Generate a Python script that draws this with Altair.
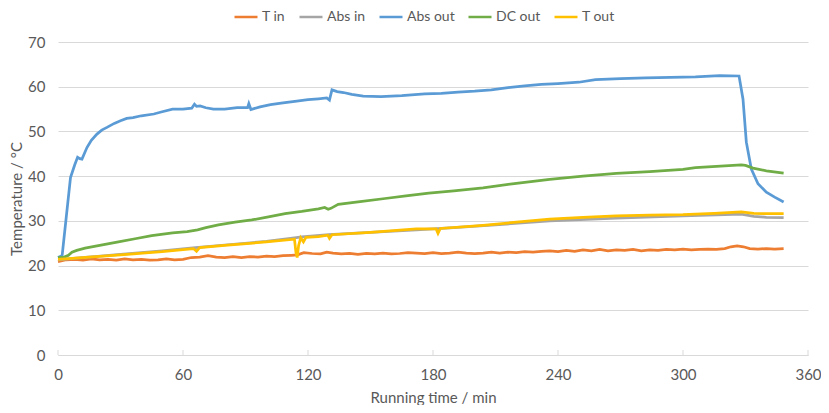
import altair as alt
import pandas as pd

series_names = ["T in", "Abs in", "Abs out", "DC out", "T out"]
series_colors = ["#ED7D31", "#A5A5A5", "#5B9BD5", "#70AD47", "#FFC000"]
x_ticks = [0, 60, 120, 180, 240, 300, 360]
y_ticks = [0, 10, 20, 30, 40, 50, 60, 70]

t_tin = [0, 4, 8, 12, 16, 20, 24, 28, 32, 36, 40, 44, 48, 52, 56, 60, 64, 68, 72, 76,
         80, 84, 88, 92, 96, 100, 104, 108, 112, 115, 118, 122, 126, 129, 132, 136, 140,
         144, 148, 152, 156, 160, 164, 168, 172, 176, 180, 184, 188, 192, 196, 200, 204,
         208, 212, 216, 220, 224, 228, 232, 236, 240, 244, 248, 252, 256, 260, 264, 268,
         272, 276, 280, 284, 288, 292, 296, 300, 304, 308, 312, 316, 320, 323, 326, 329,
         332, 336, 340, 344, 348.3]
v_tin = [20.9, 21.3, 21.4, 21.2, 21.5, 21.3, 21.4, 21.2, 21.5, 21.3, 21.4, 21.2, 21.3, 21.5,
         21.3, 21.4, 21.8, 21.9, 22.2, 21.9, 21.8, 22.0, 21.8, 22.0, 21.9, 22.1, 22.0, 22.2,
         22.3, 22.4, 22.9, 22.7, 22.6, 23.0, 22.8, 22.6, 22.7, 22.5, 22.7, 22.6, 22.8, 22.6,
         22.7, 22.9, 22.8, 22.7, 22.9, 22.7, 22.8, 23.0, 22.8, 22.7, 22.8, 23.0, 22.8, 23.0,
         22.9, 23.1, 23.0, 23.2, 23.3, 23.1, 23.4, 23.2, 23.5, 23.3, 23.6, 23.3, 23.5, 23.4,
         23.6, 23.3, 23.5, 23.4, 23.6, 23.5, 23.7, 23.5, 23.6, 23.7, 23.6, 23.8, 24.2, 24.4,
         24.2, 23.8, 23.7, 23.8, 23.7, 23.8]

t_absin = [0, 10, 30, 50, 66, 80, 100, 113.5, 117, 130, 150, 172, 190, 210, 236, 268, 300,
           320, 328, 334, 340, 348.3]
v_absin = [21.3, 21.7, 22.5, 23.3, 24.0, 24.6, 25.4, 26.2, 26.4, 26.9, 27.4, 28.0, 28.5, 29.1,
           30.0, 30.6, 31.1, 31.4, 31.5, 31.0, 30.8, 30.7]

t_absout = [0, 1, 2, 4, 6, 8, 9.4, 10.5, 11.5, 13.9, 16, 18.7, 21, 23.5, 27, 30, 33, 36, 40,
            46, 50, 55, 60, 64.2, 65.5, 66.5, 68.2, 71, 74.6, 80, 86, 91, 91.6, 92.6, 97, 102,
            108, 114.6, 120, 125, 129, 130.3, 131.5, 134, 137, 141, 146.5, 155, 165, 176, 184,
            192, 200, 208, 216, 224, 232, 240, 250, 258, 270, 282, 294, 306, 317.6, 326.9,
            328.8, 330.4, 332.8, 336, 340, 344, 348.3]
v_absout = [21.8, 22.0, 22.3, 31.0, 39.7, 42.5, 44.2, 43.9, 43.8, 46.4, 48.0, 49.4, 50.3, 50.9,
            51.8, 52.4, 52.9, 53.1, 53.5, 53.9, 54.4, 55.0, 55.0, 55.2, 56.1, 55.6, 55.7, 55.3,
            55.0, 55.0, 55.3, 55.3, 56.2, 54.9, 55.5, 56.0, 56.4, 56.8, 57.1, 57.3, 57.5, 57.0,
            59.3, 58.9, 58.7, 58.3, 57.9, 57.8, 58.0, 58.4, 58.5, 58.8, 59.0, 59.3, 59.8, 60.2,
            60.5, 60.7, 61.0, 61.6, 61.8, 62.0, 62.1, 62.2, 62.5, 62.4, 57.2, 47.6, 41.6, 38.3,
            36.4, 35.3, 34.2]

t_dcout = [0, 3, 5, 6.7, 9, 13, 20, 29, 37, 45, 55, 62, 67, 71, 77, 85, 93, 101, 109, 117, 125,
           128, 129.7, 131, 134.5, 145, 157, 167, 178, 190, 204, 220, 236, 252, 268, 284, 300,
           306, 316, 328, 330, 333.6, 340, 348.3]
v_dcout = [21.8, 21.9, 22.3, 23.0, 23.4, 23.9, 24.5, 25.3, 26.0, 26.7, 27.3, 27.6, 28.0, 28.5,
           29.1, 29.7, 30.2, 30.9, 31.6, 32.1, 32.7, 33.0, 32.6, 32.8, 33.7, 34.3, 35.0, 35.6,
           36.2, 36.7, 37.4, 38.4, 39.3, 40.0, 40.6, 41.0, 41.5, 41.9, 42.2, 42.5, 42.4, 41.8,
           41.2, 40.7]

t_tout = [0, 10, 30, 50, 65, 66.5, 68, 80, 100, 113.5, 114.2, 114.8, 115.5, 116.5, 117.8, 119,
          125, 129.5, 130.3, 131.5, 150, 172, 181.5, 182.4, 183.5, 204, 220, 236, 252, 268,
          284, 300, 315, 328, 334, 340, 348.3]
v_tout = [21.4, 21.7, 22.4, 23.1, 23.8, 23.2, 24.0, 24.5, 25.3, 25.9, 23.0, 21.8, 24.5, 26.2,
          25.3, 26.3, 26.5, 26.8, 26.1, 26.9, 27.4, 28.2, 28.2, 27.2, 28.3, 29.0, 29.7, 30.4,
          30.8, 31.1, 31.3, 31.4, 31.7, 32.0, 31.7, 31.6, 31.6]

frames = []
for name, ts, vs in [("T in", t_tin, v_tin), ("Abs in", t_absin, v_absin),
                     ("Abs out", t_absout, v_absout), ("DC out", t_dcout, v_dcout),
                     ("T out", t_tout, v_tout)]:
    frames.append(pd.DataFrame({"t": ts, "v": vs, "series": name}))
df = pd.concat(frames, ignore_index=True)
ticks_df = pd.DataFrame({"t": x_ticks})

W, H = 750, 313
FONT = "Lato"
GREY = "#595959"

lines = alt.Chart(df).mark_line(strokeWidth=2.75).encode(
    x=alt.X("t:Q", scale=alt.Scale(domain=[0, 360], nice=False),
            axis=alt.Axis(values=x_ticks, title="Running time / min", grid=False,
                          ticks=False, domain=True, domainColor="#d9d9d9",
                          labelFlush=False, labelPadding=12, titleY=42,
                          titleBaseline="middle")),
    y=alt.Y("v:Q", scale=alt.Scale(domain=[0, 70], nice=False),
            axis=alt.Axis(values=y_ticks, title="Temperature / °C", grid=True,
                          gridColor="#d9d9d9", ticks=False, domain=False,
                          labelPadding=13, titleX=-42, titleY=H / 2,
                          titleBaseline="middle")),
    color=alt.Color("series:N", scale=alt.Scale(domain=series_names, range=series_colors),
                    legend=alt.Legend(title=None, orient="none", direction="horizontal",
                                      legendX=175, legendY=-38, symbolType="stroke",
                                      symbolSize=529, symbolStrokeWidth=2.5,
                                      labelOffset=3, columnPadding=8,
                                      labelFontSize=14, labelFont=FONT, labelColor=GREY)),
    order=alt.Order("t:Q"),
)

tickmarks = alt.Chart(ticks_df).mark_rule(color="#d9d9d9", strokeWidth=1).encode(
    x="t:Q",
    y=alt.value(H - 5),
    y2=alt.value(H),
)

chart = alt.layer(lines, tickmarks).properties(
    width=W, height=H,
    autosize=alt.AutoSizeParams(type="none"),
    padding={"left": 50, "top": 34, "right": 13, "bottom": 50},
).configure_view(stroke=None).configure_axis(
    labelFont=FONT, labelFontSize=15, labelColor=GREY,
    titleFont=FONT, titleFontSize=15, titleColor=GREY, titleFontWeight="normal",
)

chart.save("out.html", embed_options={"renderer": "svg", "actions": False})
